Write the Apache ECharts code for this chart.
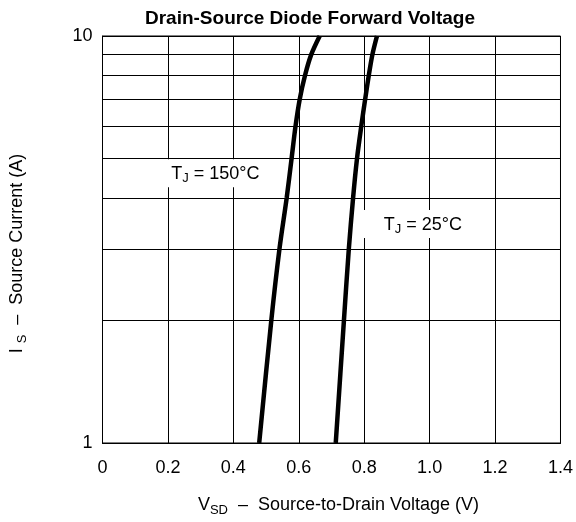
<!DOCTYPE html>
<html>
<head>
<meta charset="utf-8">
<script src="https://cdn.jsdelivr.net/npm/echarts@6/dist/echarts.min.js"></script>
<style>html,body{margin:0;padding:0;background:#fff;}#c{width:576px;height:522px;}</style>
</head>
<body>
<div id="c"></div>
<script>
const currentA = [1, 2, 3, 4, 5, 6, 7, 8, 9, 10];
const vsd150 = [0.479, 0.516, 0.541, 0.563, 0.578, 0.590, 0.603, 0.619, 0.638, 0.664];
const vsd25 = [0.713, 0.738, 0.753, 0.766, 0.778, 0.791, 0.803, 0.814, 0.825, 0.839];
const xTicks = ['0', '0.2', '0.4', '0.6', '0.8', '1.0', '1.2', '1.4'];
const minorGridI = [2, 3, 4, 5, 6, 7, 8, 9];
const label150 = {v: 0.342, i: 4.6};
const label25 = {v: 0.958, i: 3.45};

const FONT = 'Liberation Sans, Arial, sans-serif';
const chart = echarts.init(document.getElementById('c'), null, {renderer: 'canvas'});
const pair = (vs) => vs.map((v, k) => [v, currentA[k]]);
const subRich = {
  n: {fontSize: 18, fontFamily: FONT, color: '#000'},
  sub: {fontSize: 13, fontFamily: FONT, color: '#000', padding: [10, 0, 0, 0]}
};
function tagPoint(p, txt, pad) {
  return {
    coord: [p.v, p.i],
    symbol: 'rect', symbolSize: 0,
    label: {
      show: true, position: 'inside',
      formatter: txt,
      backgroundColor: '#fff',
      padding: pad,
      rich: subRich
    }
  };
}
chart.setOption({
  animation: false,
  backgroundColor: '#fff',
  title: {
    text: 'Drain-Source Diode Forward Voltage',
    left: 305, top: 4, textAlign: 'center',
    textStyle: {fontFamily: FONT, fontSize: 19, fontWeight: 'bold', color: '#000'}
  },
  grid: {left: 101, right: 14, top: 36, bottom: 79, show: true, borderColor: '#000', borderWidth: 1},
  xAxis: {
    type: 'value', min: 0, max: 1.4, interval: 0.2,
    axisLine: {show: true, lineStyle: {color: '#000', width: 1}},
    axisTick: {show: false},
    splitLine: {show: true, lineStyle: {color: '#000', width: 1}},
    axisLabel: {
      margin: 16, fontFamily: FONT, fontSize: 18, color: '#000',
      formatter: (v) => xTicks[Math.round(v / 0.2)]
    },
    name: '{n|V}{sub|SD}{n|  –  Source-to-Drain Voltage (V)}',
    nameLocation: 'middle', nameGap: 51,
    nameTextStyle: {rich: subRich, padding: [0, 0, 0, 14]}
  },
  yAxis: {
    type: 'log', logBase: 10, min: 1, max: 10,
    axisLine: {show: true, lineStyle: {color: '#000', width: 1}},
    axisTick: {show: false},
    splitLine: {show: true, lineStyle: {color: '#000', width: 1}},
    axisLabel: {margin: 10, fontFamily: FONT, fontSize: 18, color: '#000'},
    name: '{n|I }{sub|S}{n|  –  Source Current (A)}',
    nameLocation: 'middle', nameGap: 74, nameRotate: 90,
    nameTextStyle: {rich: subRich, padding: [0, 28, 0, 0]}
  },
  series: [
    {
      type: 'line', data: [], silent: true, z: 1,
      markLine: {
        silent: true, symbol: 'none', animation: false,
        label: {show: false},
        lineStyle: {color: '#000', width: 1, type: 'solid'},
        data: minorGridI.map((i) => ({yAxis: i}))
      }
    },
    {
      type: 'line', data: pair(vsd150), showSymbol: false, smooth: 0.3, z: 3,
      lineStyle: {color: '#000', width: 4.5}
    },
    {
      type: 'line', data: pair(vsd25), showSymbol: false, smooth: 0.3, z: 3,
      lineStyle: {color: '#000', width: 4.5}
    },
    {
      type: 'line', data: [], z: 5, silent: true,
      markPoint: {
        silent: true, animation: false,
        data: [
          tagPoint(label150, '{n|T}{sub|J}{n| = 150°C}', [3, 6, 2, 8]),
          tagPoint(label25, '{n|T}{sub|J}{n| = 25°C}', [3, 6, 2, 20])
        ]
      }
    }
  ]
});
</script>
</body>
</html>
